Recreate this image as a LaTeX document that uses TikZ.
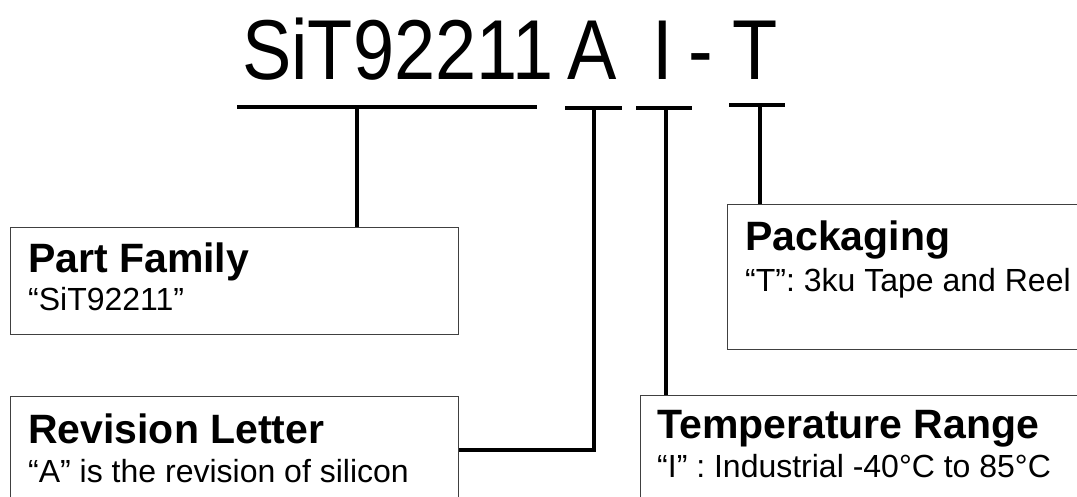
\documentclass[tikz,border=0pt]{standalone}
\usepackage{fontspec}
\setmainfont{Liberation Sans}
\newfontfamily\narrowfont[FakeStretch=0.87]{Liberation Sans}
\begin{document}
\begin{tikzpicture}[x=1pt,y=-1pt,
  box/.style={draw=black!75, line width=1.1pt, rectangle, anchor=north west, inner sep=0pt},
  ttl/.style={anchor=base west, inner sep=0pt, font=\fontsize{41}{41}\selectfont\bfseries},
  sub/.style={anchor=base west, inner sep=0pt, font=\fontsize{32}{32}\selectfont},
  bar/.style={line width=4.5pt},
  conn/.style={line width=4pt}]
\useasboundingbox (0,0) rectangle (1077,497);
\clip (0,0) rectangle (1077,497);
\fill[white] (0,0) rectangle (1077,497);

% part number
\node[anchor=base west, inner sep=0pt, font=\narrowfont\fontsize{85}{85}\selectfont] (pn) at (242,80)
  {SiT92211 \hspace{-6pt}A \hspace{15.1pt}I \hspace{-5.5pt}- \hspace{-0.6pt}T};

% bars
\coordinate (b1l) at (237,107); \coordinate (b1r) at (537,107); \coordinate (b1c) at (357,107);
\coordinate (b2l) at (565,108); \coordinate (b2r) at (622,108); \coordinate (b2c) at (594,108);
\coordinate (b3l) at (636,108); \coordinate (b3r) at (692,108); \coordinate (b3c) at (666,108);
\coordinate (b4l) at (729,105); \coordinate (b4r) at (785,105); \coordinate (b4c) at (760,105);
\draw[bar] (b1l) -- (b1r);
\draw[bar] (b2l) -- (b2r);
\draw[bar] (b3l) -- (b3r);
\draw[bar] (b4l) -- (b4r);

% boxes
\node[box, minimum width=448pt, minimum height=107pt] (pf) at (10,227) {};
\node[box, minimum width=448pt, minimum height=107pt] (rv) at (10,396) {};
\node[box, minimum width=400pt, minimum height=145pt] (pk) at (727,204) {};
\node[box, minimum width=460pt, minimum height=107pt] (tr) at (640,395) {};

% texts
\node[ttl] (pft) at (28,273) {Part Family};
\node[sub] (pfs) at (28,310) {“SiT92211”};
\node[ttl] (rvt) at (28,443) {Revision Letter};
\node[sub] (rvs) at (28,482) {“A” is the revision of silicon};
\node[ttl] (pkt) at (745,251) {Packaging};
\node[sub] (pks) at (745,292) {“T”: 3ku Tape and Reel};
\node[ttl] (trt) at (657,438) {Temperature Range};
\node[sub] (trs) at (657,477) {“I” : Industrial -40°C to 85°C};

% connectors
\draw[conn] (b1c) -- (b1c |- pf.north);
\draw[conn] (b2c) -- (b2c |- rv.east) -- (rv.east);
\draw[conn] (b3c) -- (b3c |- tr.north);
\draw[conn] (b4c) -- (b4c |- pk.north);
\end{tikzpicture}
\end{document}
